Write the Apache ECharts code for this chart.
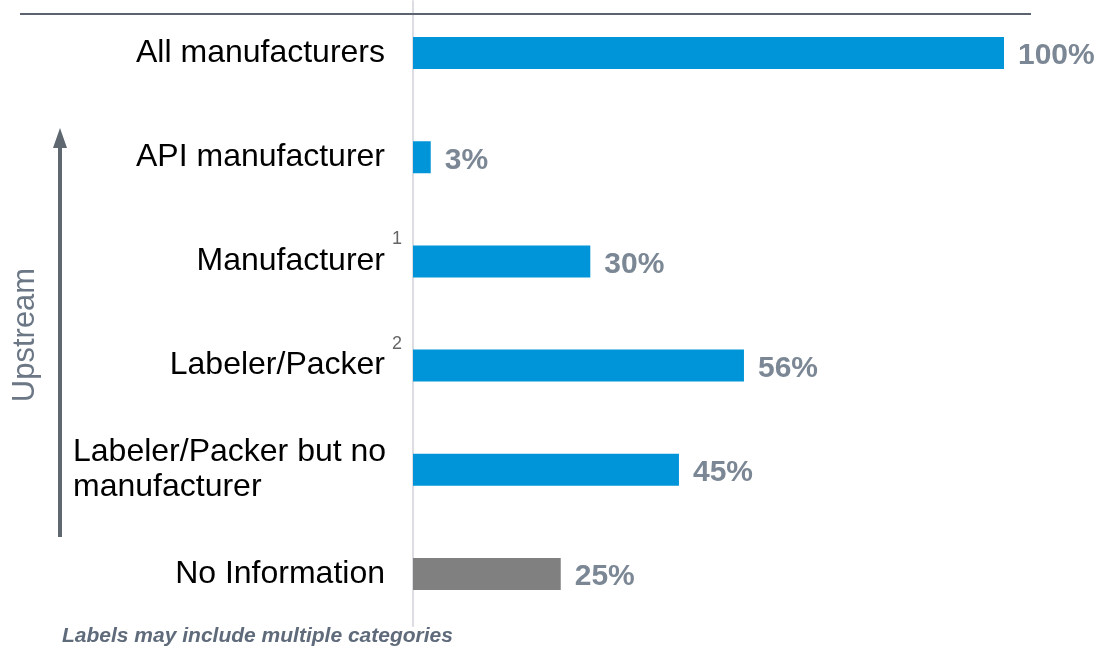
<!DOCTYPE html>
<html>
<head>
<meta charset="utf-8">
<style>
  html, body { margin: 0; padding: 0; background: #fff; }
  #chart { width: 1097px; height: 652px; }
</style>
<script src="https://cdn.jsdelivr.net/npm/echarts@6/dist/echarts.min.js"></script>
</head>
<body>
<div id="chart"></div>
<script>
// categories top to bottom
var categories = [
  'All manufacturers',
  'API manufacturer',
  'Manufacturer',
  'Labeler/Packer',
  'Labeler/Packer but no manufacturer',
  'No Information'
]
var shares = [100, 3, 30, 56, 45, 25]
var barColors = ['#0094d8', '#0094d8', '#0094d8', '#0094d8', '#0094d8', '#808080']
var footnoteMarks = ['', '', '1', '2', '', '']

var chart = echarts.init(document.getElementById('chart'))

var option = {
  animation: false,
  grid: { left: 413, right: 93, top: 1, bottom: 26 },
  xAxis: {
    type: 'value',
    min: 0,
    max: 100,
    show: false
  },
  yAxis: {
    type: 'category',
    inverse: true,
    data: categories,
    axisLine: { show: true, lineStyle: { color: '#dcdde3', width: 2 } },
    axisTick: { show: false },
    axisLabel: {
      margin: 28,
      color: '#000',
      fontFamily: 'Liberation Sans, Arial, sans-serif',
      fontSize: 32,
      lineHeight: 38,
      formatter: function (v) {
        // the long one wraps and is left aligned inside its block
        if (v === 'Labeler/Packer but no manufacturer') {
          return '{l|Labeler/Packer but no}\n{l|manufacturer}'
        }
        return v
      },
      rich: {
        l: {
          width: 312,
          align: 'left',
          fontSize: 32,
          lineHeight: 35,
          color: '#000',
          fontFamily: 'Liberation Sans, Arial, sans-serif'
        }
      }
    }
  },
  series: [{
    type: 'bar',
    barWidth: 32,
    data: shares.map(function (v, i) {
      return { value: v, itemStyle: { color: barColors[i] } }
    }),
    label: {
      show: true,
      position: 'right',
      distance: 14,
      offset: [0, 3],
      formatter: '{c}%',
      color: '#7b8794',
      fontWeight: 'bold',
      fontSize: 30,
      fontFamily: 'Liberation Sans, Arial, sans-serif'
    }
  }],
  graphic: []
}

// top rule under the (cropped) heading
option.graphic.push({
  type: 'rect',
  shape: { x: 20, y: 13, width: 1011, height: 2 },
  style: { fill: '#5a636e' },
  z: 10
})

// upstream arrow
option.graphic.push({
  type: 'rect',
  shape: { x: 58, y: 145, width: 4, height: 392 },
  style: { fill: '#5f6770' }
})
option.graphic.push({
  type: 'polygon',
  shape: { points: [[60, 128], [53, 148], [67, 148]] },
  style: { fill: '#5f6770' }
})
option.graphic.push({
  type: 'text',
  x: 25,
  y: 335,
  rotation: Math.PI / 2,
  style: {
    text: 'Upstream',
    fill: '#6b7785',
    fontSize: 31,
    fontFamily: 'Liberation Sans, Arial, sans-serif',
    align: 'center',
    verticalAlign: 'middle'
  }
})

// footnote marks next to the category labels
footnoteMarks.forEach(function (m, i) {
  if (!m) return
  option.graphic.push({
    type: 'text',
    x: 397,
    y: 52 + i * 104.2 - 21,
    style: {
      text: m,
      fill: '#666',
      fontSize: 18,
      fontFamily: 'Liberation Sans, Arial, sans-serif',
      align: 'center',
      verticalAlign: 'middle'
    }
  })
})

option.graphic.push({
  type: 'text',
  x: 62,
  y: 636,
  style: {
    text: 'Labels may include multiple categories',
    fill: '#5f6b7a',
    fontSize: 21,
    fontWeight: 'bold',
    fontStyle: 'italic',
    fontFamily: 'Liberation Sans, Arial, sans-serif',
    verticalAlign: 'middle'
  }
})

chart.setOption(option)
</script>
</body>
</html>
